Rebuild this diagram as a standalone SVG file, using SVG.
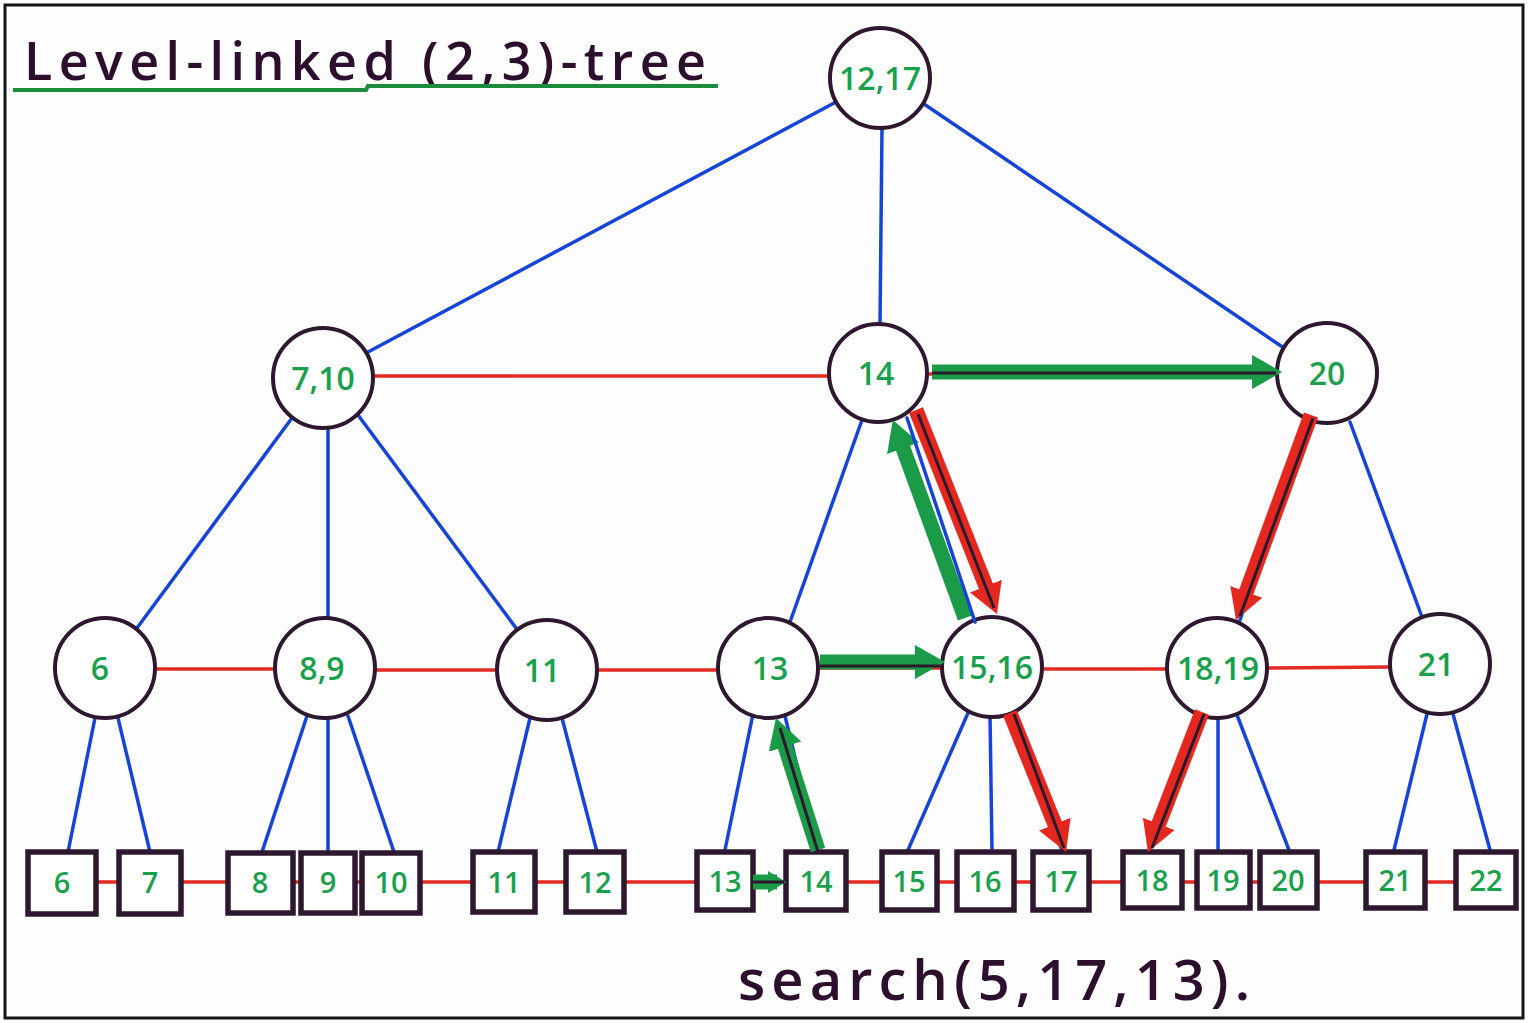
<svg xmlns="http://www.w3.org/2000/svg" width="1528" height="1023" viewBox="0 0 1528 1023">
  <style>
    .frame { fill: #fdfdfd; stroke: #151515; stroke-width: 3; }
    .tree { stroke: #1744d8; stroke-width: 3.5; stroke-linecap: round; fill: none; }
    .link { stroke: #e42a22; stroke-width: 3.5; stroke-linecap: round; fill: none; }
    .node circle { fill: #ffffff; stroke: #2e1830; stroke-width: 4; }
    .leaf rect { fill: #ffffff; stroke: #2e1830; stroke-width: 5.5; }
    .lbl { font-family: "Open Sans", "Liberation Sans", sans-serif; font-weight: 600; fill: #19a04c; text-anchor: middle; }
    .node .lbl { font-size: 32px; }
    .leaf .lbl { font-size: 29px; }
    .hand { font-family: "Open Sans", "Liberation Sans", sans-serif; font-weight: 600; fill: #2c0f2c; }
    .g-shaft { stroke: #1b9a48; stroke-width: 15; fill: none; }
    .r-shaft { stroke: #e5281f; stroke-width: 15; fill: none; }
    .core { stroke: #2a1a2c; stroke-width: 3; fill: none; }
  </style>
  <defs>
    <marker id="headG" markerUnits="userSpaceOnUse" viewBox="0 -18 32 36" markerWidth="32" markerHeight="36" refX="16" refY="0" orient="auto">
      <path d="M0,-17 L30,0 L0,17 Z" fill="#1b9a48"/>
    </marker>
    <marker id="headR" markerUnits="userSpaceOnUse" viewBox="0 -18 32 36" markerWidth="32" markerHeight="36" refX="16" refY="0" orient="auto">
      <path d="M0,-17 L30,0 L0,17 Z" fill="#e5281f"/>
    </marker>
    <marker id="headGs" markerUnits="userSpaceOnUse" viewBox="0 -12 20 24" markerWidth="20" markerHeight="24" refX="9" refY="0" orient="auto">
      <path d="M0,-11 L18,0 L0,11 Z" fill="#1b9a48"/>
    </marker>
  </defs>

  <rect class="frame" x="5" y="5" width="1518" height="1013"/>

  <!-- title -->
  <g id="title">
    <text class="hand" x="24" y="80" font-size="52" textLength="682" lengthAdjust="spacing">Level-linked (2,3)-tree</text>
    <path d="M13,90 L366,90 L368,86 L718,86" stroke="#1c8c3c" stroke-width="4" fill="none"/>
  </g>

  <!-- parent/child edges and level links -->
  <g id="connectors">
    <!-- root -->
    <line class="tree" x1="836" y1="102" x2="368" y2="352"/>
    <line class="tree" x1="882" y1="128" x2="880" y2="325"/>
    <line class="tree" x1="924" y1="104" x2="1284" y2="348"/>
    <!-- level 2 -->
    <line class="tree" x1="292" y1="418" x2="137" y2="628"/>
    <line class="tree" x1="328" y1="428" x2="328" y2="618"/>
    <line class="tree" x1="358" y1="415" x2="516" y2="628"/>
    <line class="tree" x1="862" y1="420" x2="790" y2="622"/>
    <line class="tree" x1="1306" y1="420" x2="1240" y2="620"/>
    <line class="tree" x1="1350" y1="422" x2="1422" y2="617"/>
    <!-- level 3 -->
    <line class="tree" x1="95" y1="718" x2="68" y2="852"/>
    <line class="tree" x1="118" y1="718" x2="150" y2="852"/>
    <line class="tree" x1="307" y1="716" x2="262" y2="852"/>
    <line class="tree" x1="328" y1="718" x2="328" y2="852"/>
    <line class="tree" x1="348" y1="716" x2="394" y2="852"/>
    <line class="tree" x1="530" y1="718" x2="498" y2="852"/>
    <line class="tree" x1="562" y1="718" x2="597" y2="852"/>
    <line class="tree" x1="753" y1="714" x2="725" y2="850"/>
    <line class="tree" x1="785" y1="716" x2="818" y2="852"/>
    <line class="tree" x1="968" y1="713" x2="908" y2="850"/>
    <line class="tree" x1="990" y1="716" x2="992" y2="850"/>
    <line class="tree" x1="1010" y1="714" x2="1062" y2="850"/>
    <line class="tree" x1="1200" y1="714" x2="1150" y2="850"/>
    <line class="tree" x1="1218" y1="718" x2="1218" y2="850"/>
    <line class="tree" x1="1237" y1="715" x2="1289" y2="850"/>
    <line class="tree" x1="1427" y1="714" x2="1394" y2="850"/>
    <line class="tree" x1="1453" y1="714" x2="1490" y2="850"/>
    <!-- level links -->
    <line class="link" x1="373" y1="376" x2="830" y2="376"/>
    <line class="link" x1="928" y1="374" x2="1278" y2="374"/>
    <line class="link" x1="155" y1="669" x2="275" y2="669"/>
    <line class="link" x1="375" y1="670" x2="497" y2="670"/>
    <line class="link" x1="597" y1="670" x2="718" y2="670"/>
    <line class="link" x1="818" y1="668" x2="942" y2="668"/>
    <line class="link" x1="1042" y1="669" x2="1167" y2="669"/>
    <line class="link" x1="1267" y1="668" x2="1390" y2="667"/>
    <line class="link" x1="96" y1="882" x2="1456" y2="882"/>
  </g>

  <!-- internal nodes -->
  <g id="n-12-17" class="node"><circle cx="880" cy="78" r="50"/><text class="lbl" x="880" y="90">12,17</text></g>
  <g id="n-7-10" class="node"><circle cx="323" cy="378" r="50"/><text class="lbl" x="323" y="390">7,10</text></g>
  <g id="n-14" class="node"><circle cx="878" cy="373" r="49"/><text class="lbl" x="876" y="385">14</text></g>
  <g id="n-20" class="node"><circle cx="1327" cy="373" r="50"/><text class="lbl" x="1327" y="385">20</text></g>
  <g id="n-6" class="node"><circle cx="105" cy="668" r="50"/><text class="lbl" x="100" y="680">6</text></g>
  <g id="n-8-9" class="node"><circle cx="325" cy="668" r="50"/><text class="lbl" x="322" y="680">8,9</text></g>
  <g id="n-11" class="node"><circle cx="547" cy="670" r="50"/><text class="lbl" x="542" y="682">11</text></g>
  <g id="n-13" class="node"><circle cx="768" cy="668" r="50"/><text class="lbl" x="770" y="680">13</text></g>
  <g id="n-15-16" class="node"><circle cx="992" cy="667" r="50"/><text class="lbl" x="992" y="679">15,16</text></g>
  <g id="n-18-19" class="node"><circle cx="1217" cy="668" r="50"/><text class="lbl" x="1218" y="680">18,19</text></g>
  <g id="n-21" class="node"><circle cx="1440" cy="664" r="50"/><text class="lbl" x="1436" y="676">21</text></g>

  <!-- leaves -->
  <g id="l-6" class="leaf"><rect x="28" y="852" width="68" height="62"/><text class="lbl" x="62" y="893">6</text></g>
  <g id="l-7" class="leaf"><rect x="119" y="852" width="62" height="62"/><text class="lbl" x="150" y="893">7</text></g>
  <g id="l-8" class="leaf"><rect x="228" y="853" width="65" height="60"/><text class="lbl" x="260" y="893">8</text></g>
  <g id="l-9" class="leaf"><rect x="301" y="853" width="54" height="60"/><text class="lbl" x="328" y="893">9</text></g>
  <g id="l-10" class="leaf"><rect x="362" y="853" width="58" height="60"/><text class="lbl" x="391" y="893">10</text></g>
  <g id="l-11" class="leaf"><rect x="473" y="852" width="62" height="60"/><text class="lbl" x="504" y="893">11</text></g>
  <g id="l-12" class="leaf"><rect x="566" y="852" width="58" height="60"/><text class="lbl" x="595" y="893">12</text></g>
  <g id="l-13" class="leaf"><rect x="697" y="852" width="56" height="58"/><text class="lbl" x="725" y="892">13</text></g>
  <g id="l-14" class="leaf"><rect x="786" y="852" width="60" height="58"/><text class="lbl" x="816" y="892">14</text></g>
  <g id="l-15" class="leaf"><rect x="882" y="852" width="55" height="58"/><text class="lbl" x="909" y="892">15</text></g>
  <g id="l-16" class="leaf"><rect x="957" y="852" width="57" height="58"/><text class="lbl" x="985" y="892">16</text></g>
  <g id="l-17" class="leaf"><rect x="1033" y="852" width="56" height="58"/><text class="lbl" x="1061" y="892">17</text></g>
  <g id="l-18" class="leaf"><rect x="1123" y="852" width="59" height="56"/><text class="lbl" x="1152" y="891">18</text></g>
  <g id="l-19" class="leaf"><rect x="1197" y="852" width="53" height="56"/><text class="lbl" x="1223" y="891">19</text></g>
  <g id="l-20" class="leaf"><rect x="1260" y="852" width="57" height="56"/><text class="lbl" x="1288" y="891">20</text></g>
  <g id="l-21" class="leaf"><rect x="1366" y="852" width="59" height="56"/><text class="lbl" x="1395" y="891">21</text></g>
  <g id="l-22" class="leaf"><rect x="1456" y="852" width="60" height="56"/><text class="lbl" x="1486" y="891">22</text></g>

  <!-- search path arrows, with the tree edges they follow drawn through them -->
  <g id="search-path">
    <line class="g-shaft" x1="818" y1="850" x2="780.2" y2="731.3" marker-end="url(#headG)"/>
    <line class="core" x1="818" y1="852" x2="780" y2="728"/>
    <line class="g-shaft" x1="753" y1="882" x2="777" y2="882" stroke-width="8" marker-end="url(#headGs)"/>
    <line class="core" x1="753" y1="882" x2="784" y2="882"/>
    <line class="g-shaft" x1="820" y1="662" x2="931" y2="662" marker-end="url(#headG)"/>
    <line class="core" x1="820" y1="666" x2="940" y2="666"/>
    <line class="g-shaft" x1="965" y1="618" x2="897.6" y2="433.2" marker-end="url(#headG)"/>
    <line class="r-shaft" x1="916" y1="410" x2="991.8" y2="601" marker-end="url(#headR)"/>
    <line class="core" x1="918" y1="414" x2="994" y2="608"/>
    <line class="tree" x1="907" y1="418" x2="975" y2="622"/>
    <line class="g-shaft" x1="932" y1="372" x2="1268" y2="372" marker-end="url(#headG)"/>
    <line class="core" x1="932" y1="373" x2="1276" y2="373"/>
    <line class="r-shaft" x1="1311" y1="415" x2="1240.8" y2="606.9" marker-end="url(#headR)"/>
    <line class="core" x1="1313" y1="418" x2="1240" y2="616"/>
    <line class="r-shaft" x1="1010" y1="713" x2="1060.8" y2="839" marker-end="url(#headR)"/>
    <line class="core" x1="1014" y1="714" x2="1064" y2="848"/>
    <line class="r-shaft" x1="1202" y1="712" x2="1153" y2="838.9" marker-end="url(#headR)"/>
    <line class="core" x1="1204" y1="714" x2="1152" y2="848"/>
  </g>

  <!-- caption -->
  <text class="hand" x="738" y="1000" font-size="56" textLength="512" lengthAdjust="spacing">search(5,17,13).</text>
</svg>
